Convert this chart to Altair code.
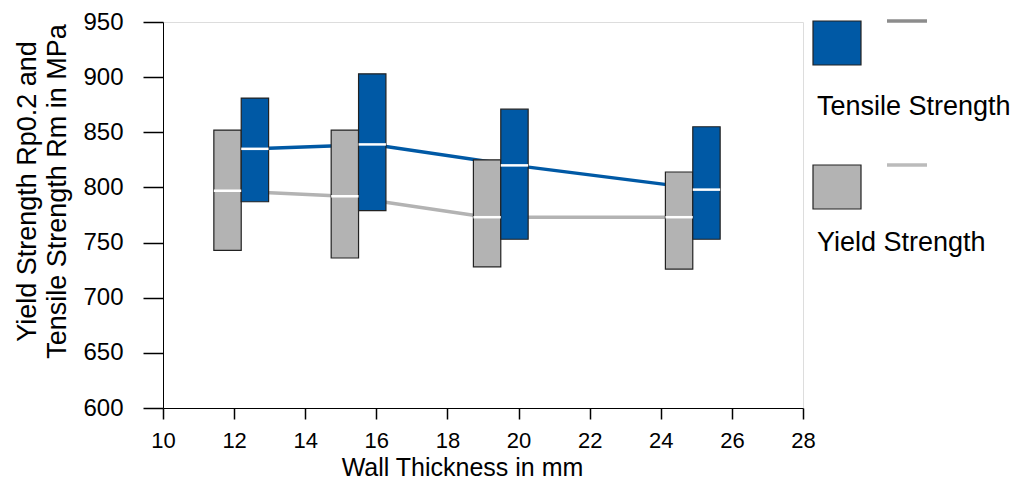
import altair as alt
import pandas as pd

# ---- data ----
thickness = [12.2, 15.5, 19.5, 24.9]
yield_min = [743, 736, 728, 726]
yield_max = [852, 852, 825, 814]
yield_med = [797, 792, 773, 773]
tensile_min = [787, 779, 753, 753]
tensile_max = [881, 903, 871, 855]
tensile_med = [835, 839, 820, 798]

series_names = ["Yield Strength", "Tensile Strength"]
series_colors = ["#B3B3B3", "#0059A5"]
x_ticks = [10, 12, 14, 16, 18, 20, 22, 24, 26, 28]
y_ticks = [600, 650, 700, 750, 800, 850, 900, 950]

rows = []
for i, t in enumerate(thickness):
    rows.append(dict(series="Yield Strength", side=-1, thickness=t,
                     lo=yield_min[i], hi=yield_max[i], med=yield_med[i]))
    rows.append(dict(series="Tensile Strength", side=1, thickness=t,
                     lo=tensile_min[i], hi=tensile_max[i], med=tensile_med[i]))
df = pd.DataFrame(rows)

BOX_W = 0.77
FONT = "Liberation Sans"
W, H = 640, 386

base = alt.Chart(df).transform_calculate(
    xa=f"datum.thickness + (datum.side < 0 ? -{BOX_W} : 0)",
    xb=f"datum.thickness + (datum.side < 0 ? 0 : {BOX_W})",
).transform_calculate(
    xm="(datum.xa + datum.xb) / 2"
)

xscale = alt.Scale(domain=[10, 28], nice=False, zero=False)
yscale = alt.Scale(domain=[600, 950], nice=False, zero=False)
cscale = alt.Scale(domain=series_names, range=series_colors)

xaxis = alt.Axis(values=x_ticks, title="Wall Thickness in mm", grid=False,
                 tickSize=11, tickColor="black", tickWidth=1.5,
                 labelFontSize=22, labelPadding=11, labelColor="black", labelFlush=False,
                 titleFontSize=25, titleFontWeight="normal", titleColor="black",
                 titleX=299, titleY=59, titleBaseline="middle",
                 titleAlign="center", domainColor="black", labelFont=FONT, titleFont=FONT)
yaxis = alt.Axis(values=y_ticks, title=["Yield Strength Rp0.2 and", "Tensile Strength Rm in MPa"],
                 grid=False, tickSize=20, tickColor="black", tickWidth=1.5,
                 labelFontSize=24, labelPadding=20, labelColor="black", labelFlush=False,
                 titleFontSize=27, titleFontWeight="normal", titleColor="black",
                 titleAngle=-90, titleX=-136, titleY=169, titleAlign="center",
                 titleBaseline="middle", titleLineHeight=30,
                 domainColor="black", labelFont=FONT, titleFont=FONT)

lines = base.mark_line(strokeWidth=3.5).encode(
    x=alt.X("xm:Q", scale=xscale, axis=xaxis),
    y=alt.Y("med:Q", scale=yscale, axis=yaxis),
    color=alt.Color("series:N", scale=cscale, legend=None),
    detail="series:N",
    order="thickness:Q",
)

boxes = base.mark_rect(stroke="#222222", strokeWidth=1.2).encode(
    x="xa:Q", x2="xb:Q",
    y="lo:Q", y2="hi:Q",
    color=alt.Color("series:N", scale=cscale, legend=None),
)

medians = base.mark_rule(color="white", strokeWidth=2.5).encode(
    x="xa:Q", x2="xb:Q", y="med:Q",
)

# ---- custom legend (decoration, pixel positions relative to plot origin) ----
one = pd.DataFrame({"k": [0]})
leg_sq_blue = alt.Chart(one).mark_rect(color="#0059A5", stroke="#222222", strokeWidth=1.2).encode(
    x=alt.value(650), x2=alt.value(698), y=alt.value(-1), y2=alt.value(43))
leg_ln_blue = alt.Chart(one).mark_rule(color="#8C8C8C", strokeWidth=3.5).encode(
    x=alt.value(724), x2=alt.value(764), y=alt.value(-1))
leg_tx_blue = alt.Chart(one).mark_text(text="Tensile Strength", align="left", baseline="middle",
                                       fontSize=27, font=FONT, color="black").encode(
    x=alt.value(654), y=alt.value(85))
leg_sq_gray = alt.Chart(one).mark_rect(color="#B3B3B3", stroke="#222222", strokeWidth=1.2).encode(
    x=alt.value(650), x2=alt.value(698), y=alt.value(143), y2=alt.value(187))
leg_ln_gray = alt.Chart(one).mark_rule(color="#BBBBBB", strokeWidth=3.5).encode(
    x=alt.value(724), x2=alt.value(764), y=alt.value(143))
leg_tx_gray = alt.Chart(one).mark_text(text="Yield Strength", align="left", baseline="middle",
                                       fontSize=27, font=FONT, color="black").encode(
    x=alt.value(654), y=alt.value(221))

chart = alt.layer(
    lines, boxes, medians,
    leg_sq_blue, leg_ln_blue, leg_tx_blue, leg_sq_gray, leg_ln_gray, leg_tx_gray,
).properties(
    width=W, height=H,
    autosize=alt.AutoSizeParams(type="none"),
    padding={"left": 155, "top": 14, "right": 207, "bottom": 72},
).configure_view(
    stroke="#222222", strokeWidth=1.5
).configure(background="white")

chart.save("out.html", embed_options={"renderer": "svg", "actions": False})
